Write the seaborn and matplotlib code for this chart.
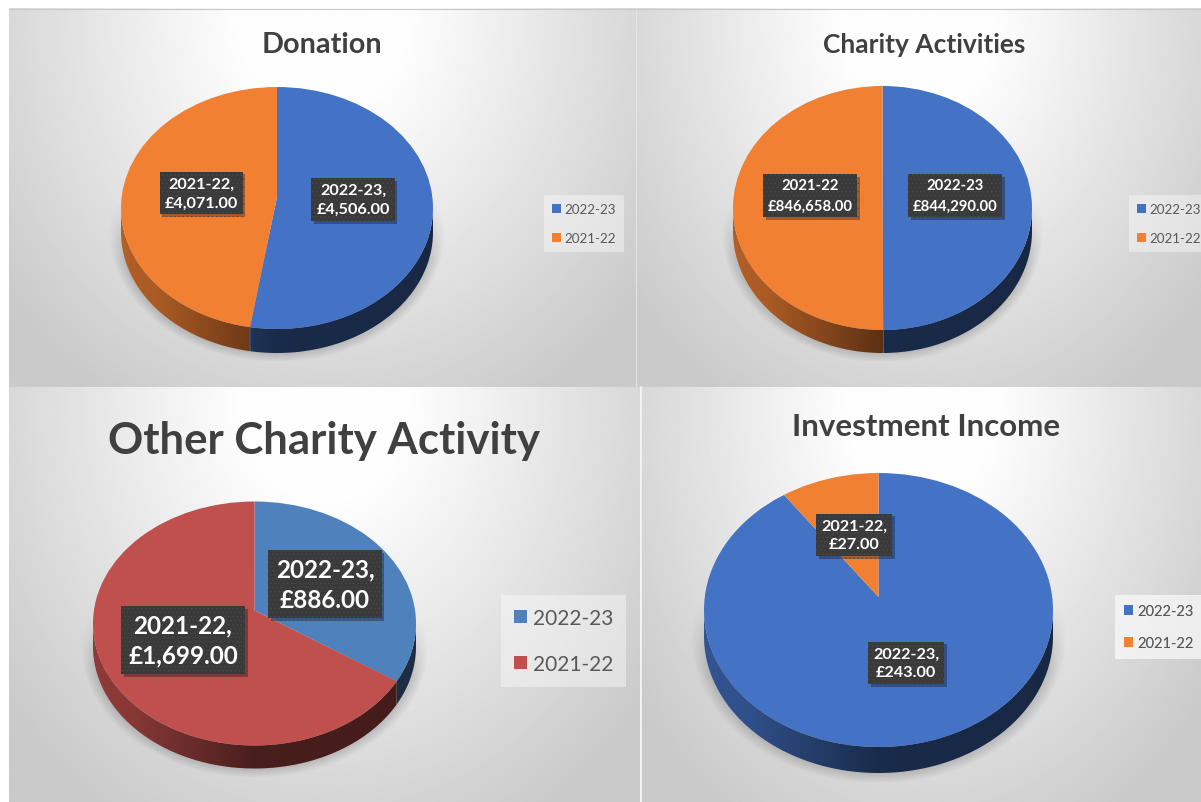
import numpy as np
import matplotlib
matplotlib.use("Agg")
import matplotlib.pyplot as plt
import matplotlib.patheffects as pe
from matplotlib.patches import Ellipse, Patch, Polygon
import seaborn as sns

W, H = 1201, 803

# data
years = ["2022-23", "2021-22"]
donation = [4506, 4071]
charity_activities = [844290, 846658]
other_activity = [886, 1699]
investment = [243, 27]

titles = ["Donation", "Charity Activities", "Other Charity Activity", "Investment Income"]

office_colors = sns.color_palette(["#4472C4", "#F28033"])
old_office_colors = sns.color_palette(["#4F81BD", "#C0504D"])

# layout of each panel in pixels
panels = [
    dict(vals=donation, title=titles[0], cols=office_colors, rect=(9, 9, 635, 388),
         c=(277, 209), r=(156, 121), depth=24, apex=11, comma=True,
         title_xy=(322, 45), title_fs=20.8, label_fs=11.7, label_ls=1.45,
         labels=[(353, 200.5), (201, 194)],
         legend=(544, 196), leg_fs=9.6),
    dict(vals=charity_activities, title=titles[1], cols=office_colors, rect=(635, 9, 1201, 388),
         c=(882.5, 209), r=(149.5, 122), depth=23, apex=11, comma=False,
         title_xy=(924, 45), title_fs=19, label_fs=10.7, label_ls=1.6,
         labels=[(955, 196.5), (810, 196.5)],
         legend=(1129, 196), leg_fs=9.6),
    dict(vals=other_activity, title=titles[2], cols=old_office_colors, rect=(9, 388, 640, 803),
         c=(254.5, 624.5), r=(161.5, 122), depth=23, apex=13, comma=True,
         title_xy=(324, 441), title_fs=31.5, label_fs=17.5, label_ls=1.38,
         labels=[(325, 585), (183, 641)],
         legend=(501, 596), leg_fs=15),
    dict(vals=investment, title=titles[3], cols=office_colors, rect=(641, 388, 1201, 803),
         c=(878.5, 611), r=(174.5, 137), depth=26, apex=13, comma=True,
         title_xy=(926, 427), title_fs=22.5, label_fs=11.7, label_ls=1.45,
         labels=[(906, 664), (854, 536)],
         legend=(1115, 596), leg_fs=10.5),
]


def draw_panel(fig, overlay, p):
    x0, y0, x1, y1 = p["rect"]
    cx, cy = p["c"]
    rx, ry = p["r"]
    d = p["depth"] / ry
    a = p["apex"] / ry
    ax = fig.add_axes([x0 / W, 1 - y1 / H, (x1 - x0) / W, (y1 - y0) / H])
    xlim = ((x0 - cx) / rx, (x1 - cx) / rx)
    ylim = ((cy - y1) / ry, (cy - y0) / ry)
    ext = (xlim[0], xlim[1], ylim[0], ylim[1])

    # light grey background, white around the top middle
    u, v = np.meshgrid(np.linspace(0, 1, 300), np.linspace(0, 1, 300))
    dist = np.hypot((u - 0.5) / 0.6, (v - 0.03) / 1.1)
    bg = np.clip(1.0 - 0.24 * (dist - 0.2), 0.79, 0.995)
    ax.imshow(bg, cmap="gray", vmin=0, vmax=1, extent=ext, aspect="auto", zorder=0)

    # soft shadow under the pie
    X, Y = np.meshgrid(np.linspace(xlim[0], xlim[1], 600), np.linspace(ylim[1], ylim[0], 600))
    rr = np.hypot(X / 1.08, (Y + d) / 1.08)
    sh = np.clip((1 - rr) / 0.13, 0, 1) * np.clip((0.05 - Y) / 0.5, 0, 1)
    sh = sh * np.clip((Y + 1 + d + 0.08) / 0.02, 0, 1)
    rgba = np.zeros(X.shape + (4,))
    rgba[..., 3] = 0.3 * sh
    ax.imshow(rgba, extent=ext, aspect="auto", zorder=1)

    # top face: oversized wedges from the off-centre apex, clipped to the disc
    wedges, _ = ax.pie(p["vals"], colors=p["cols"], startangle=90, counterclock=False,
                       center=(0, a), radius=4, wedgeprops=dict(linewidth=0))
    disc = Ellipse((0, 0), 2, 2, transform=ax.transData)
    for w in wedges:
        w.set_clip_on(True)
        w.set_clip_path(disc)
        w.set_zorder(3)

    # side wall, darker towards the right
    phi = np.radians(np.linspace(180, 360, 1441))
    px, py = np.cos(phi), np.sin(phi)
    ang = np.degrees(np.arctan2(py - a, px)) % 360
    grad_x = np.linspace(-1, 1, 256)
    shade = np.interp(grad_x, [-1, -0.75, 0, 1], [0.74, 0.70, 0.38, 0.35])
    for w, col in zip(wedges, p["cols"]):
        m = ((ang - w.theta1) % 360) <= (w.theta2 - w.theta1)
        if not m.any():
            continue
        xs, ys = px[m], py[m]
        poly = Polygon(np.r_[np.c_[xs, ys], np.c_[xs[::-1], ys[::-1] - d]],
                       transform=ax.transData, fc="none", ec="none")
        ax.add_patch(poly)
        img = shade[None, :, None] * np.array(col)[None, None, :]
        im = ax.imshow(img, extent=(-1, 1, -1 - d - 0.01, 0), aspect="auto", zorder=2)
        im.set_clip_path(poly)

    ax.set(xlim=xlim, ylim=ylim)
    ax.set_axis_off()

    # title
    overlay.text(p["title_xy"][0], p["title_xy"][1], p["title"], ha="center", va="center",
                 fontsize=p["title_fs"], fontweight="bold", color="#404040")

    # data labels
    sep = "," if p["comma"] else ""
    for lab, val, (lx, ly) in zip(years, p["vals"], p["labels"]):
        t = overlay.text(lx, ly, f"{lab}{sep}\n£{val:,.2f}", ha="center", va="center",
                         fontsize=p["label_fs"], fontweight="bold", color="white", linespacing=p["label_ls"],
                         bbox=dict(boxstyle="square,pad=0.3", fc="#3A3A3A", ec="#4A4A4A", lw=0, hatch="...."))
        t.get_bbox_patch().set_path_effects(
            [pe.SimplePatchShadow(offset=(2, -2), alpha=0.3, shadow_rgbFace="black"), pe.Normal()])

    # legend
    handles = [Patch(facecolor=c, linewidth=0, label=y) for c, y in zip(p["cols"], years)]
    leg = overlay.legend(handles=handles, loc="upper left", bbox_to_anchor=p["legend"],
                         bbox_transform=overlay.transData, fontsize=p["leg_fs"], frameon=True,
                         handlelength=0.62, handleheight=0.62, handletextpad=0.3, labelspacing=1.25,
                         borderpad=0.62, borderaxespad=0, labelcolor="#595959", fancybox=False,
                         facecolor="white", edgecolor="none", framealpha=0.4)
    return leg


def main():
    sns.set_theme(style="white")
    plt.rcParams["font.family"] = ["Lato", "DejaVu Sans"]
    plt.rcParams["hatch.linewidth"] = 0.4
    fig = plt.figure(figsize=(W / 100, H / 100), dpi=100, facecolor="white")
    overlay = fig.add_axes([0, 0, 1, 1], zorder=10)
    overlay.set(xlim=(0, W), ylim=(H, 0))
    overlay.set_axis_off()
    for p in panels:
        overlay.add_artist(draw_panel(fig, overlay, p))
    # thin seams between the panels
    overlay.plot([635.5, 635.5], [9, 387], color="#E4E4E4", lw=0.8)
    overlay.plot([640.5, 640.5], [388, 803], color="#F4F4F4", lw=1.2)
    overlay.plot([9, 1201], [9.5, 9.5], color="#C8C8C8", lw=0.8)
    fig.savefig("out.png", dpi=100)


if __name__ == "__main__":
    main()
